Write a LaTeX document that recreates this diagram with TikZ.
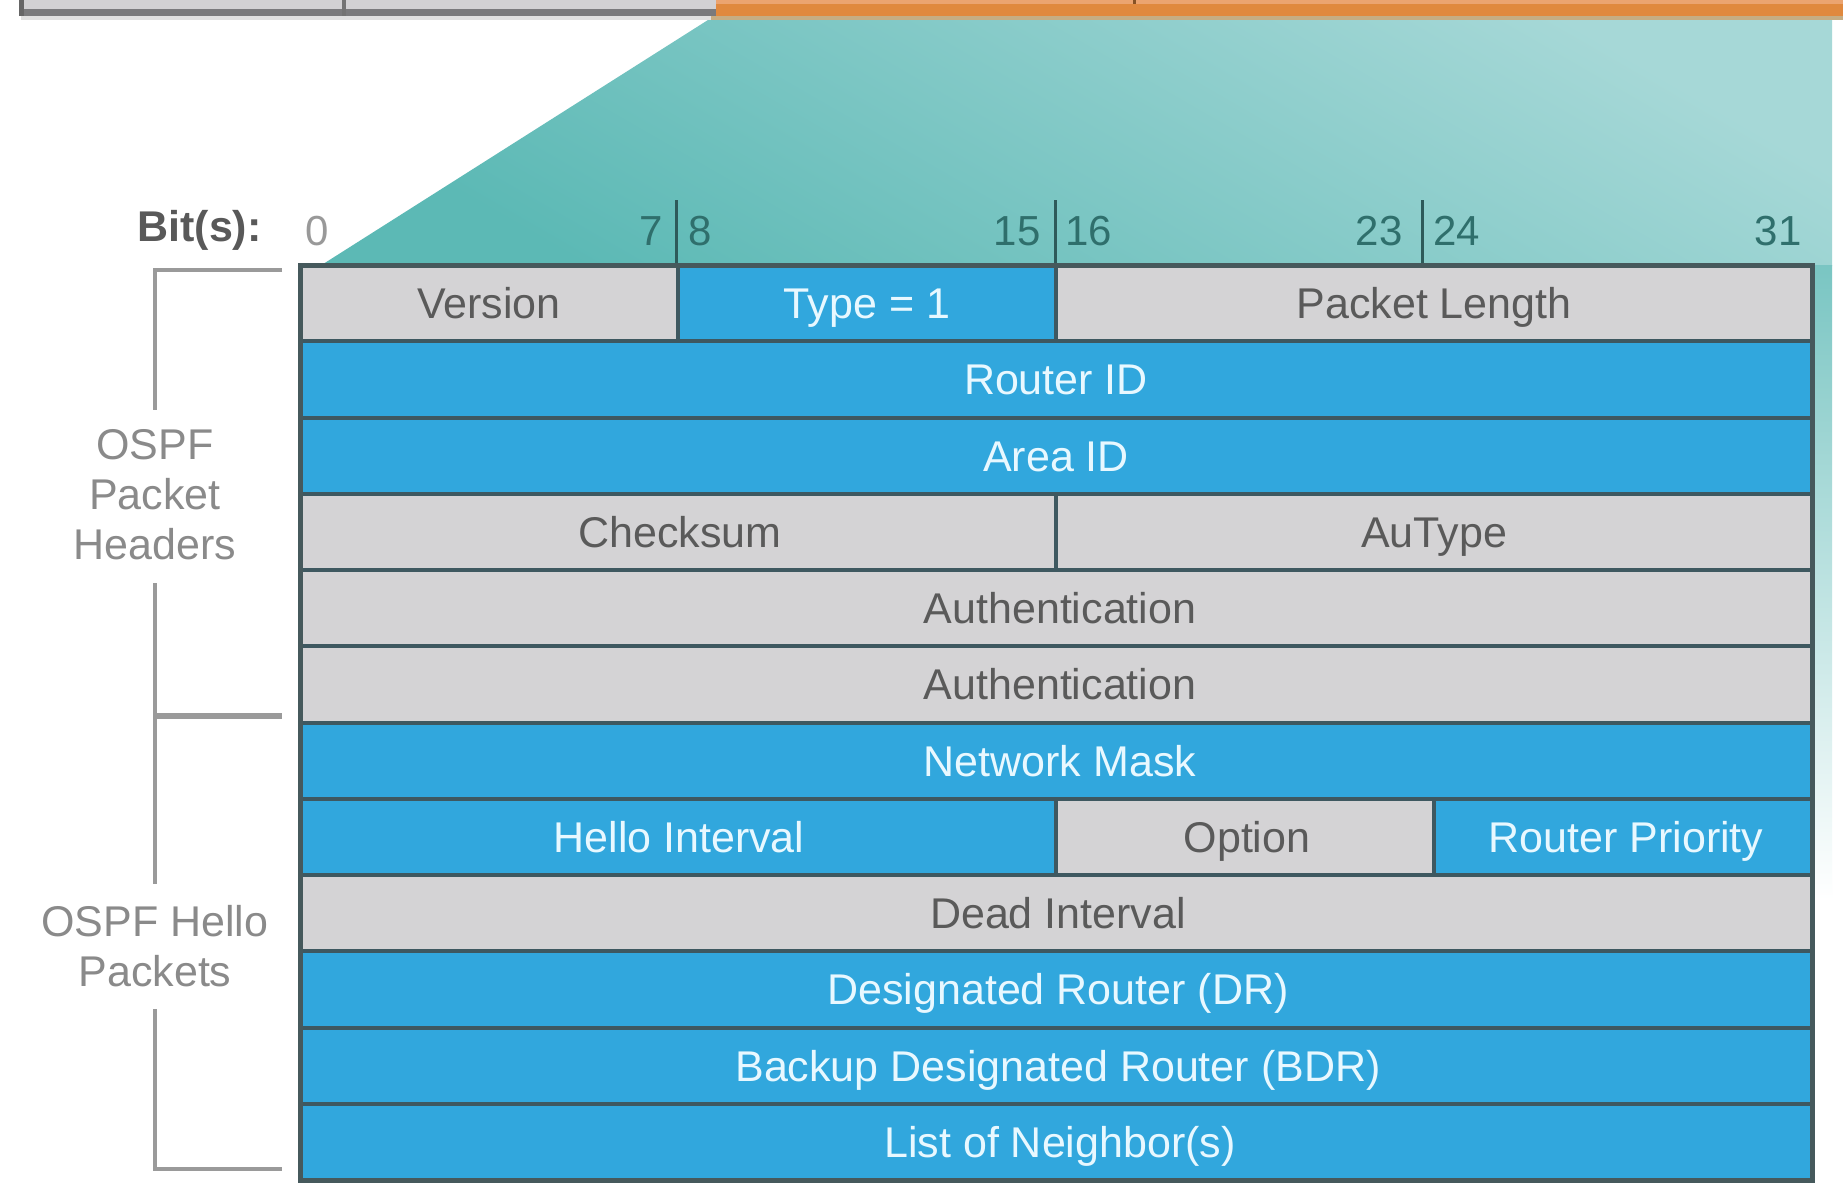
\documentclass[tikz,border=0pt]{standalone}
\usepackage{fontspec}
\setmainfont{Liberation Sans}
\definecolor{cellblue}{HTML}{31A7DD}
\definecolor{cellgray}{HTML}{D4D3D5}
\definecolor{gridline}{HTML}{3E5860}
\definecolor{outline}{HTML}{46595C}
\definecolor{txtgray}{HTML}{5A5A5A}
\definecolor{txtwhite}{HTML}{E8F8FF}
\definecolor{brk}{HTML}{9A9A9A}
\definecolor{lbl}{HTML}{8A8A8A}
\definecolor{tealL}{HTML}{A6D8D7}
\definecolor{tealD}{HTML}{5CB9B5}
\definecolor{orangeD}{HTML}{E0893E}
\definecolor{orangeL}{HTML}{EBA470}
\definecolor{barL}{HTML}{D2D1D3}
\definecolor{barD}{HTML}{7A7A7C}
\definecolor{numteal}{HTML}{2F6F6C}
\definecolor{tickcol}{HTML}{2E5A5A}
\begin{document}
\begin{tikzpicture}[x=0.5pt,y=-0.5pt,
  celltext/.style={font=\fontsize{21.5}{24}\selectfont, text height=15.5pt, text depth=0pt, inner sep=0pt},
  graytext/.style={celltext, text=txtgray},
  bluetext/.style={celltext, text=txtwhite},
  numlabel/.style={font=\fontsize{21}{24}\selectfont, text height=15pt, text depth=0pt, inner sep=0pt, text=numteal},
  sidelabel/.style={font=\fontsize{21.5}{25}\selectfont, align=center, text=lbl, inner sep=0pt},
  gridrule/.style={draw=gridline, line width=2pt},
  bracketline/.style={draw=brk, line width=2pt},
  tickline/.style={draw=tickcol, line width=1.5pt}]
\useasboundingbox (0,0) rectangle (1843,1183);
\fill[white] (0,0) rectangle (1843,1183);

% top bar (gray part)
\fill[barL] (21,0) rectangle (716,9);
\fill[barD] (21,9) rectangle (716,16);
\fill[black!12] (21,16) rectangle (711,20);
\fill[black!60] (19,0) rectangle (24,16);
\fill[black!55] (342,0) rectangle (346,16);
% top bar (orange part)
\fill[orangeL] (716,0) rectangle (1843,4);
\fill[orangeD] (716,4) rectangle (1843,16);
\fill[orangeD!55!tealL] (711,16) rectangle (1843,20);
\fill[orangeD!60!black] (1133,0) rectangle (1136,4);

% teal zoom wedge
\shade[top color=tealL, bottom color=tealD, shading angle=-30]
  (708,20) -- (1832,20) -- (1832,266) -- (320,266) -- cycle;
\shade[top color=tealD!60!tealL, bottom color=white] (1812,265) rectangle (1832,900);

% bit ruler
\node[anchor=east, font=\bfseries\fontsize{21.5}{24}\selectfont, text=black!65, text height=15.5pt, text depth=4pt, inner sep=0pt] (bits) at (262,230) {Bit(s):};
\node[numlabel, anchor=west, text=black!40] (b0) at (305,230) {0};
\node[numlabel, anchor=east] (b7) at (663,230) {7};
\node[numlabel, anchor=west] (b8) at (688,230) {8};
\node[numlabel, anchor=east] (b15) at (1041,230) {15};
\node[numlabel, anchor=west] (b16) at (1065,230) {16};
\node[numlabel, anchor=east] (b23) at (1403,230) {23};
\node[numlabel, anchor=west] (b24) at (1433,230) {24};
\node[numlabel, anchor=east] (b31) at (1802,230) {31};
\draw[tickline] (676,200) -- (676,265);
\draw[tickline] (1055,200) -- (1055,265);
\draw[tickline] (1422,200) -- (1422,265);

% cell fills
\fill[cellgray] (300,265) rectangle (678,341.25);
\fill[cellblue] (678,265) rectangle (1056,341.25);
\fill[cellgray] (1056,265) rectangle (1812,341.25);
\fill[cellblue] (300,341.25) rectangle (1812,493.75);
\fill[cellgray] (300,493.75) rectangle (1812,722.5);
\fill[cellblue] (300,722.5) rectangle (1812,875);
\fill[cellgray] (1056,798.75) rectangle (1434,875);
\fill[cellgray] (300,875) rectangle (1812,951.25);
\fill[cellblue] (300,951.25) rectangle (1812,1183);

% grid lines
\foreach \yy in {341.25,417.5,493.75,570,646.25,722.5,798.75,875,951.25,1027.5,1103.75}
  \draw[gridrule] (300,\yy) -- (1812,\yy);
\draw[gridrule] (678,265) -- (678,341.25);
\draw[gridrule] (1056,265) -- (1056,341.25);
\draw[gridrule] (1056,493.75) -- (1056,570);
\draw[gridrule] (1056,798.75) -- (1056,875);
\draw[gridrule] (1434,798.75) -- (1434,875);
\draw[draw=outline, line width=2.5pt] (300,265) rectangle (1812,1180);

% cell texts
\node[graytext] (ver) at (489,303.1) {Version};
\node[bluetext] (typ) at (867,303.1) {Type = 1};
\node[graytext] (plen) at (1434,303.1) {Packet Length};
\node[bluetext] (rid) at (1056,379.4) {Router ID};
\node[bluetext] (aid) at (1056,455.6) {Area ID};
\node[graytext] (chk) at (680,531.9) {Checksum};
\node[graytext] (aut) at (1434,531.9) {AuType};
\node[graytext] (auth1) at (1060,608.1) {Authentication};
\node[graytext] (auth2) at (1060,684.4) {Authentication};
\node[bluetext] (mask) at (1060,760.6) {Network Mask};
\node[bluetext] (hello) at (679,836.9) {Hello Interval};
\node[graytext] (opt) at (1247,836.9) {Option};
\node[bluetext] (prio) at (1626,836.9) {Router Priority};
\node[graytext] (dead) at (1058,913.1) {Dead Interval};
\node[bluetext] (dr) at (1058,989.4) {Designated Router (DR)};
\node[bluetext] (bdr) at (1058,1065.6) {Backup Designated Router (BDR)};
\node[bluetext] (nbr) at (1060,1141.9) {List of Neighbor(s)};

% brackets and side labels
\draw[bracketline] (282,270) -- (155,270) -- (155,410);
\draw[bracketline] (155,583) -- (155,884);
\draw[draw=brk, line width=2.8pt] (155,716) -- (282,716);
\draw[bracketline] (155,1009) -- (155,1169) -- (282,1169);
\node[sidelabel] (hdr) at (155,495) {OSPF\\Packet\\Headers};
\node[sidelabel] (hlo) at (155,946) {OSPF Hello\\Packets};
\end{tikzpicture}
\end{document}
